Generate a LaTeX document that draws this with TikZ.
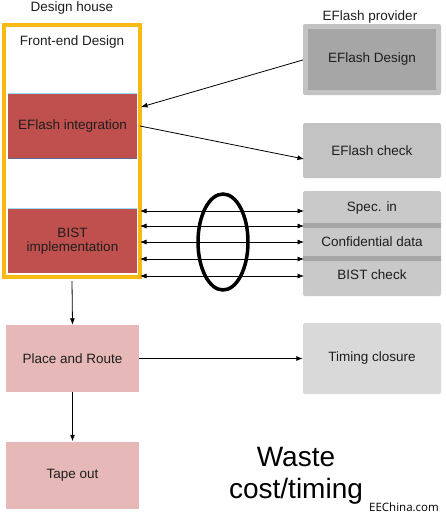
\documentclass[tikz,border=0pt]{standalone}
\usepackage{fontspec}
\setmainfont{Liberation Sans}
\newfontfamily\wmfont{Open Sans}
\usetikzlibrary{shapes.geometric,arrows.meta}
\definecolor{frameY}{HTML}{F8BA12}
\definecolor{darkred}{HTML}{C0504D}
\definecolor{pinkbox}{HTML}{E6B9B8}
\definecolor{greyA}{HTML}{C3C3C3}
\definecolor{greyB}{HTML}{A6A6A6}
\definecolor{greyC}{HTML}{D9D9D9}
\definecolor{txt}{HTML}{1E1E1E}
\tikzset{
  lbl/.style={font=\fontsize{13.5}{15.5}\selectfont, text=txt, align=center, inner sep=0pt},
  redbox/.style={rectangle, fill=darkred, minimum width=129, minimum height=65, lbl},
  pinkbx/.style={rectangle, fill=pinkbox, minimum width=133, minimum height=67, lbl},
  greybx/.style={rectangle, rounded corners=2pt, fill=greyA, minimum width=138, lbl},
  arr/.style={-{Latex[length=6.5pt,width=5pt]}, line width=0.8pt, black},
  darr/.style={{Latex[length=6.5pt,width=5pt]}-{Latex[length=6.5pt,width=5pt]}, line width=0.7pt, black}
}
\begin{document}
\begin{tikzpicture}[x=1pt,y=-1pt]
\useasboundingbox (0,0) rectangle (446,520);
\fill[white] (0,0) rectangle (446,520);

% Design house
\node[lbl] (dh) at (72,8) {Design house};
\node[lbl] (fe) at (72,42) {Front-end Design};
\node[redbox] (eint) at (72.5,126) {EFlash integration};
\draw[cyan!40!white, line width=0.8pt] (eint.north west) -- (eint.north east);
\draw[gray!80!blue, line width=0.8pt] (eint.south west) -- (eint.south east);
\node[redbox, minimum height=64] (bist) at (72.5,241) {BIST\\[-1pt]implementation};
\draw[cyan!40!white, line width=0.8pt] (bist.north west) -- (bist.north east);
\node[rectangle, draw=frameY, line width=4pt, minimum width=136, minimum height=252] (frame) at (72,151) {};

% EFlash provider
\node[lbl] (ep) at (370,17) {EFlash provider};
\node[greybx, minimum height=71] (dsgo) at (372,59.5) {};
\node[rectangle, fill=greyB, minimum width=128, minimum height=61, lbl] (dsg) at (372,59.5) {EFlash Design};
\node[greybx, minimum height=55] (chk) at (372,150.5) {EFlash check};
\node[greybx, fill=greyA!90!white, minimum height=105] (grp) at (372,243.5) {};
\fill[greyB] (303,223) rectangle (441,228);
\fill[greyB] (303,256) rectangle (441,261);
\node[lbl] (spec) at (372,208) {Spec. in};
\node[lbl] (conf) at (372,242) {Confidential data};
\node[lbl] (bchk) at (372,275) {BIST check};

% connectors
\coordinate (a1) at (141,107);
\coordinate (a2) at (140,126);
\coordinate (a3) at (304,159);
\draw[arr] (dsgo.west |- 0,60) -- (a1);
\draw[arr] (a2) -- (a3);

\foreach \yy/\nm in {211/l1,226/l2,242/l3,259/l4,276/l5}{
  \coordinate (\nm a) at (140,\yy);
  \coordinate (\nm b) at (304,\yy);
  \draw[darr] (\nm a) -- (\nm b);
}
\node[ellipse, draw, line width=3.5pt, minimum width=50, minimum height=96, inner sep=0pt] (ell) at (223,242) {};

% lower flow
\node[pinkbx] (pr) at (72.5,358.5) {Place and Route};
\node[greybx, fill=greyC, minimum height=71] (tc) at (372,358.5) {Timing closure};
\node[pinkbx] (tape) at (72.5,475) {Tape out};
\draw[arr] ([yshift=-2pt]frame.south) -- (pr.north);
\draw[arr] (pr.south) -- (tape.north);
\draw[arr] (pr.east) -- (tc.west);

\node[font=\fontsize{28}{32}\selectfont, align=center, inner sep=0pt, anchor=base] (w1) at (296,466) {Waste};
\node[font=\fontsize{28}{32}\selectfont, align=center, inner sep=0pt, anchor=base] (w2) at (296,498) {cost/timing};
\node[font=\wmfont\fontsize{11.5}{13}\selectfont, inner sep=0pt] (ee) at (404,507) {EEChina.com};
\end{tikzpicture}
\end{document}
